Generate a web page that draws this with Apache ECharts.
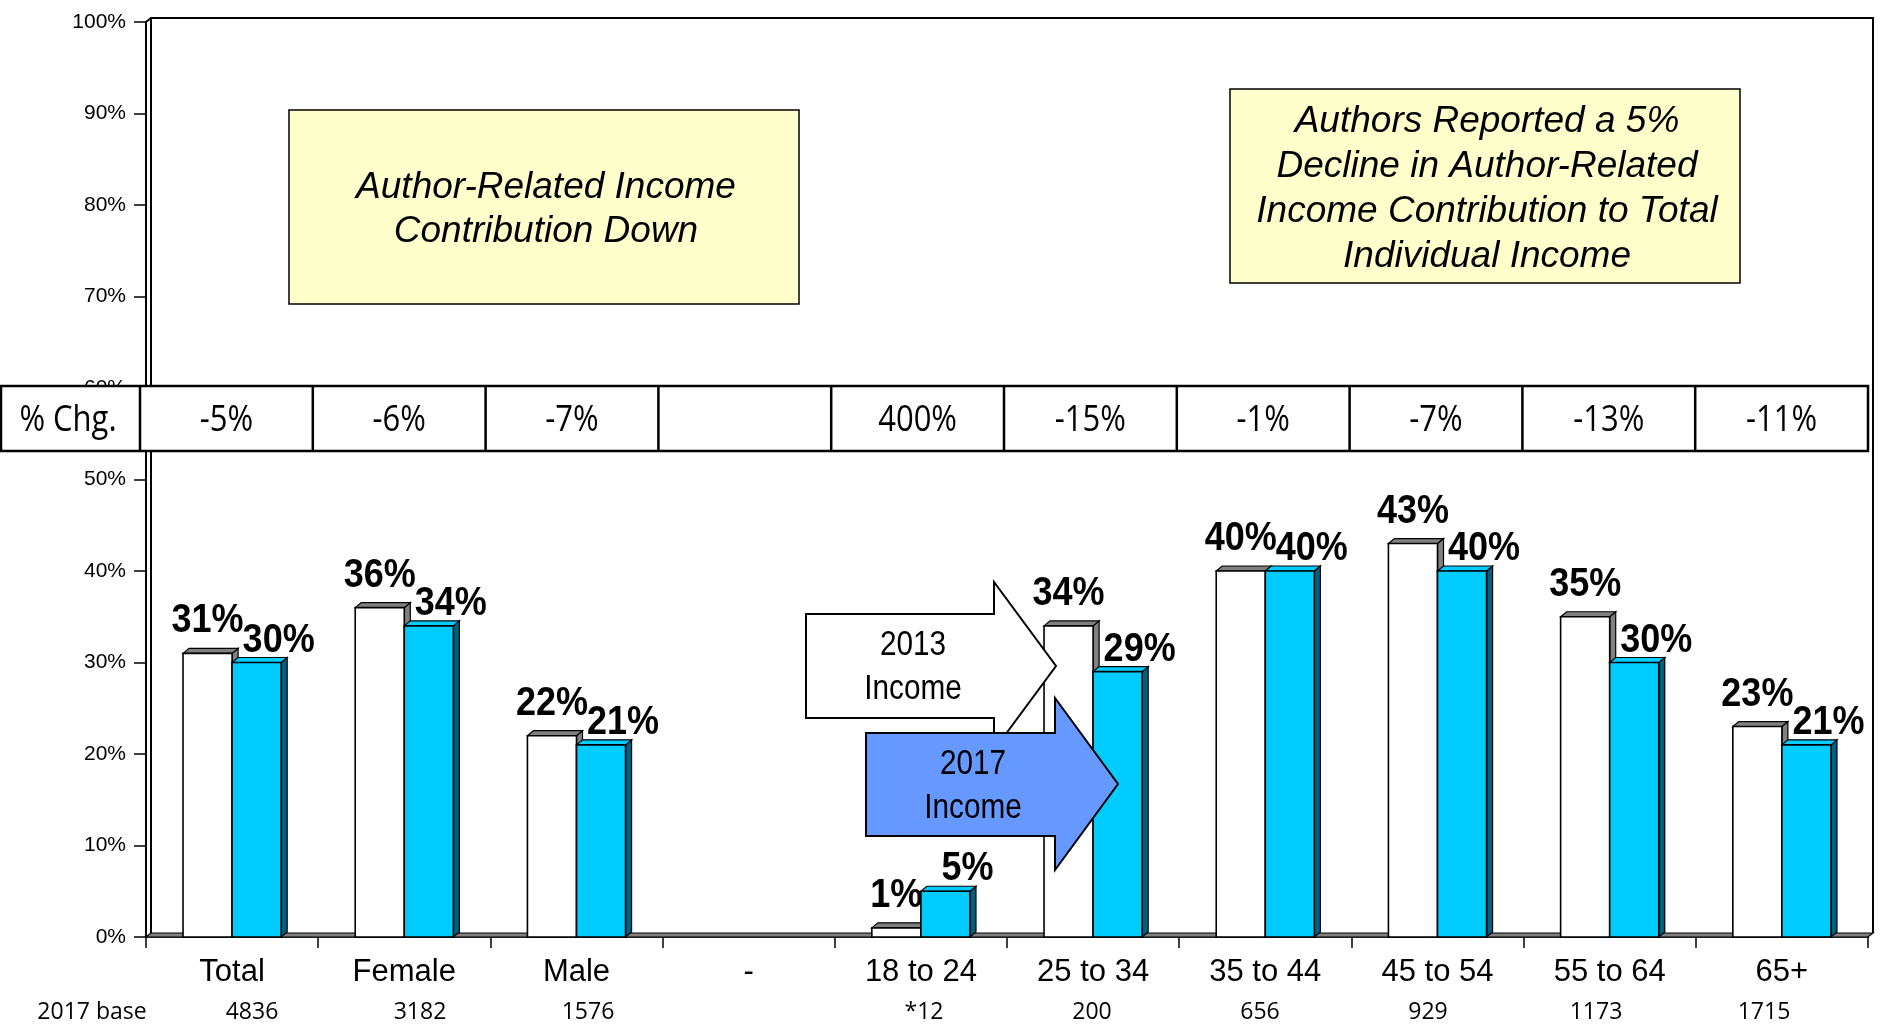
<!DOCTYPE html>
<html>
<head>
<meta charset="utf-8">
<script src="https://cdn.jsdelivr.net/npm/echarts@6/dist/echarts.min.js"></script>
<style>
  html, body { margin: 0; padding: 0; background: #fff; }
  #main { width: 1882px; height: 1030px; }
</style>
</head>
<body>
<div id="main"></div>
<script>
  var categories = ['Total', 'Female', 'Male', '-', '18 to 24', '25 to 34', '35 to 44', '45 to 54', '55 to 64', '65+']
  var income2013 = [31, 36, 22, null, 1, 34, 40, 43, 35, 23]
  var income2017 = [30, 34, 21, null, 5, 29, 40, 40, 30, 21]
  var pctChange = ['-5%', '-6%', '-7%', '', '400%', '-15%', '-1%', '-7%', '-13%', '-11%']
  var base2017 = ['4836', '3182', '1576', '', '*12', '200', '656', '929', '1173', '1715']

  // plot area (px)
  var GL = 146, GR = 1868, GT = 22, GB = 937
  var DX = 6, DY = 5      // bar depth
  var WX = 5, WY = 4      // wall / floor depth

  function pairs(arr) {
    return arr.map(function (v, i) { return [i, v] }).filter(function (d) { return d[1] != null })
  }

  // 3D-looking bar: front, top and side faces
  function bar3d(side, col, shift) {
    return function (params, api) {
      var idx = api.value(0), v = api.value(1)
      var top = api.coord([idx, v])
      var bot = api.coord([idx, 0])
      var w = api.size([1, 0])[0] * 0.285
      var x0 = side < 0 ? top[0] - w : top[0]
      var x1 = x0 + w, y0 = top[1], yb = bot[1]
      return {
        type: 'group',
        children: [
          { type: 'polygon', shape: { points: [[x1, y0], [x1 + DX, y0 - DY], [x1 + DX, yb - DY], [x1, yb]] },
            style: { fill: col.side, stroke: '#000', lineWidth: 1.2 } },
          { type: 'polygon', shape: { points: [[x0, y0], [x0 + DX, y0 - DY], [x1 + DX, y0 - DY], [x1, y0]] },
            style: { fill: col.top, stroke: '#000', lineWidth: 1.2 } },
          { type: 'rect', shape: { x: x0, y: y0, width: w, height: yb - y0 },
            style: { fill: col.front, stroke: '#000', lineWidth: 1.6 } },
          { type: 'text', x: x0 + w / 2 + shift[0], y: y0 + shift[1], scaleX: 0.9, z2: 100,
            style: { text: v + '%', font: 'bold 40px "Liberation Sans", Arial', fill: '#000', align: 'center', verticalAlign: 'middle' } }
        ]
      }
    }
  }

  var graphics = []
  // back wall and floor
  graphics.push({ type: 'polygon', z: 1, shape: { points: [[GL, GB], [GL + WX, GB - WY], [GR + WX, GB - WY], [GR, GB]] },
    style: { fill: '#808080', stroke: '#000', lineWidth: 1.2 } })
  graphics.push({ type: 'polyline', z: 1, shape: { points: [[GL, GT], [GL + WX, GT - WY], [GR + WX, GT - WY], [GR + WX, GB - WY]] },
    style: { fill: null, stroke: '#000', lineWidth: 2 } })
  graphics.push({ type: 'line', z: 1, shape: { x1: GL + WX, y1: GT - WY, x2: GL + WX, y2: GB - WY },
    style: { stroke: '#000', lineWidth: 2 } })

  // % Chg. table
  var TX = 140, TW = 172.8, TY = 386, TH = 65
  graphics.push({ type: 'rect', z: 50, shape: { x: 1, y: TY, width: GR - 1, height: TH },
    style: { fill: '#fff', stroke: '#000', lineWidth: 2.5 } })
  for (var k = 0; k < 10; k++) {
    graphics.push({ type: 'line', z: 51, shape: { x1: TX + TW * k, y1: TY, x2: TX + TW * k, y2: TY + TH },
      style: { stroke: '#000', lineWidth: 2.5 } })
  }
  var cellFont = '31px "Open Sans", "Noto Sans", sans-serif'
  graphics.push({ type: 'text', z: 52, x: 68, y: TY + TH / 2 + 2, scaleY: 1.2,
    style: { text: '% Chg.', font: cellFont, fill: '#000', align: 'center', verticalAlign: 'middle' } })
  pctChange.forEach(function (t, i) {
    graphics.push({ type: 'text', z: 52, x: TX + TW * (i + 0.5), y: TY + TH / 2 + 2, scaleY: 1.2,
      style: { text: t, font: cellFont, fill: '#000', align: 'center', verticalAlign: 'middle' } })
  })

  // 2017 base row
  var baseFont = '23px "Open Sans", "Noto Sans", sans-serif'
  graphics.push({ type: 'text', x: 92, y: 1012,
    style: { text: '2017 base', font: baseFont, fill: '#000', align: 'center', verticalAlign: 'middle' } })
  base2017.forEach(function (t, i) {
    graphics.push({ type: 'text', x: 252 + 168 * i, y: 1012,
      style: { text: t, font: baseFont, fill: '#000', align: 'center', verticalAlign: 'middle' } })
  })

  // callout boxes
  var boxFont = 'italic 37px "Liberation Sans", Arial'
  graphics.push({ type: 'rect', z: 60, shape: { x: 289, y: 110, width: 510, height: 194 },
    style: { fill: '#FFFFCC', stroke: '#000', lineWidth: 1.5 } })
  graphics.push({ type: 'text', z: 61, x: 546, y: 210,
    style: { text: 'Author-Related Income\nContribution Down', font: boxFont, lineHeight: 44, fill: '#000', align: 'center', verticalAlign: 'middle' } })
  graphics.push({ type: 'rect', z: 60, shape: { x: 1230, y: 89, width: 510, height: 194 },
    style: { fill: '#FFFFCC', stroke: '#000', lineWidth: 1.5 } })
  graphics.push({ type: 'text', z: 61, x: 1487, y: 189,
    style: { text: 'Authors Reported a 5%\nDecline in Author-Related\nIncome Contribution to Total\nIndividual Income', font: boxFont, lineHeight: 45, fill: '#000', align: 'center', verticalAlign: 'middle' } })

  // legend arrows
  var arrowFont = '35px "Liberation Sans", Arial'
  graphics.push({ type: 'polygon', z: 70, shape: { points: [[806, 614], [994, 614], [994, 582], [1056, 666], [994, 750], [994, 718], [806, 718]] },
    style: { fill: '#fff', stroke: '#000', lineWidth: 2 } })
  graphics.push({ type: 'text', z: 71, x: 913, y: 667, scaleX: 0.85,
    style: { text: '2013\nIncome', font: arrowFont, lineHeight: 44, fill: '#000', align: 'center', verticalAlign: 'middle' } })
  graphics.push({ type: 'polygon', z: 72, shape: { points: [[866, 733], [1055, 733], [1055, 698], [1118, 784], [1055, 870], [1055, 836], [866, 836]] },
    style: { fill: '#6699FF', stroke: '#000', lineWidth: 2 } })
  graphics.push({ type: 'text', z: 73, x: 973, y: 786, scaleX: 0.85,
    style: { text: '2017\nIncome', font: arrowFont, lineHeight: 44, fill: '#000', align: 'center', verticalAlign: 'middle' } })

  var myChart = echarts.init(document.getElementById('main'))
  myChart.setOption({
    animation: false,
    backgroundColor: '#fff',
    grid: { left: GL, right: 1882 - GR, top: GT, bottom: 1030 - GB },
    xAxis: {
      type: 'category',
      data: categories,
      axisLine: { show: true, lineStyle: { color: '#000', width: 1.5 } },
      axisTick: { show: true, length: 11, lineStyle: { color: '#000', width: 1.5 } },
      axisLabel: { color: '#000', fontSize: 31, fontFamily: '"Liberation Sans", Arial', margin: 20 }
    },
    yAxis: {
      type: 'value',
      min: 0,
      max: 100,
      interval: 10,
      axisLine: { show: true, lineStyle: { color: '#000', width: 2 } },
      axisTick: { show: true, length: 12, lineStyle: { color: '#000', width: 1.5 } },
      axisLabel: { color: '#000', fontSize: 21, fontFamily: '"Liberation Sans", Arial', margin: 20, formatter: '{value}%' },
      splitLine: { show: false }
    },
    series: [{
      name: '2013 Income',
      type: 'custom',
      z: 3,
      renderItem: bar3d(-1, { front: '#fff', top: '#808080', side: '#808080' }, [0, -32]),
      data: pairs(income2013)
    }, {
      name: '2017 Income',
      type: 'custom',
      z: 4,
      renderItem: bar3d(1, { front: '#00CCFF', top: '#00CCFF', side: '#006080' }, [22, -22]),
      data: pairs(income2017)
    }],
    graphic: graphics
  })
</script>
</body>
</html>
